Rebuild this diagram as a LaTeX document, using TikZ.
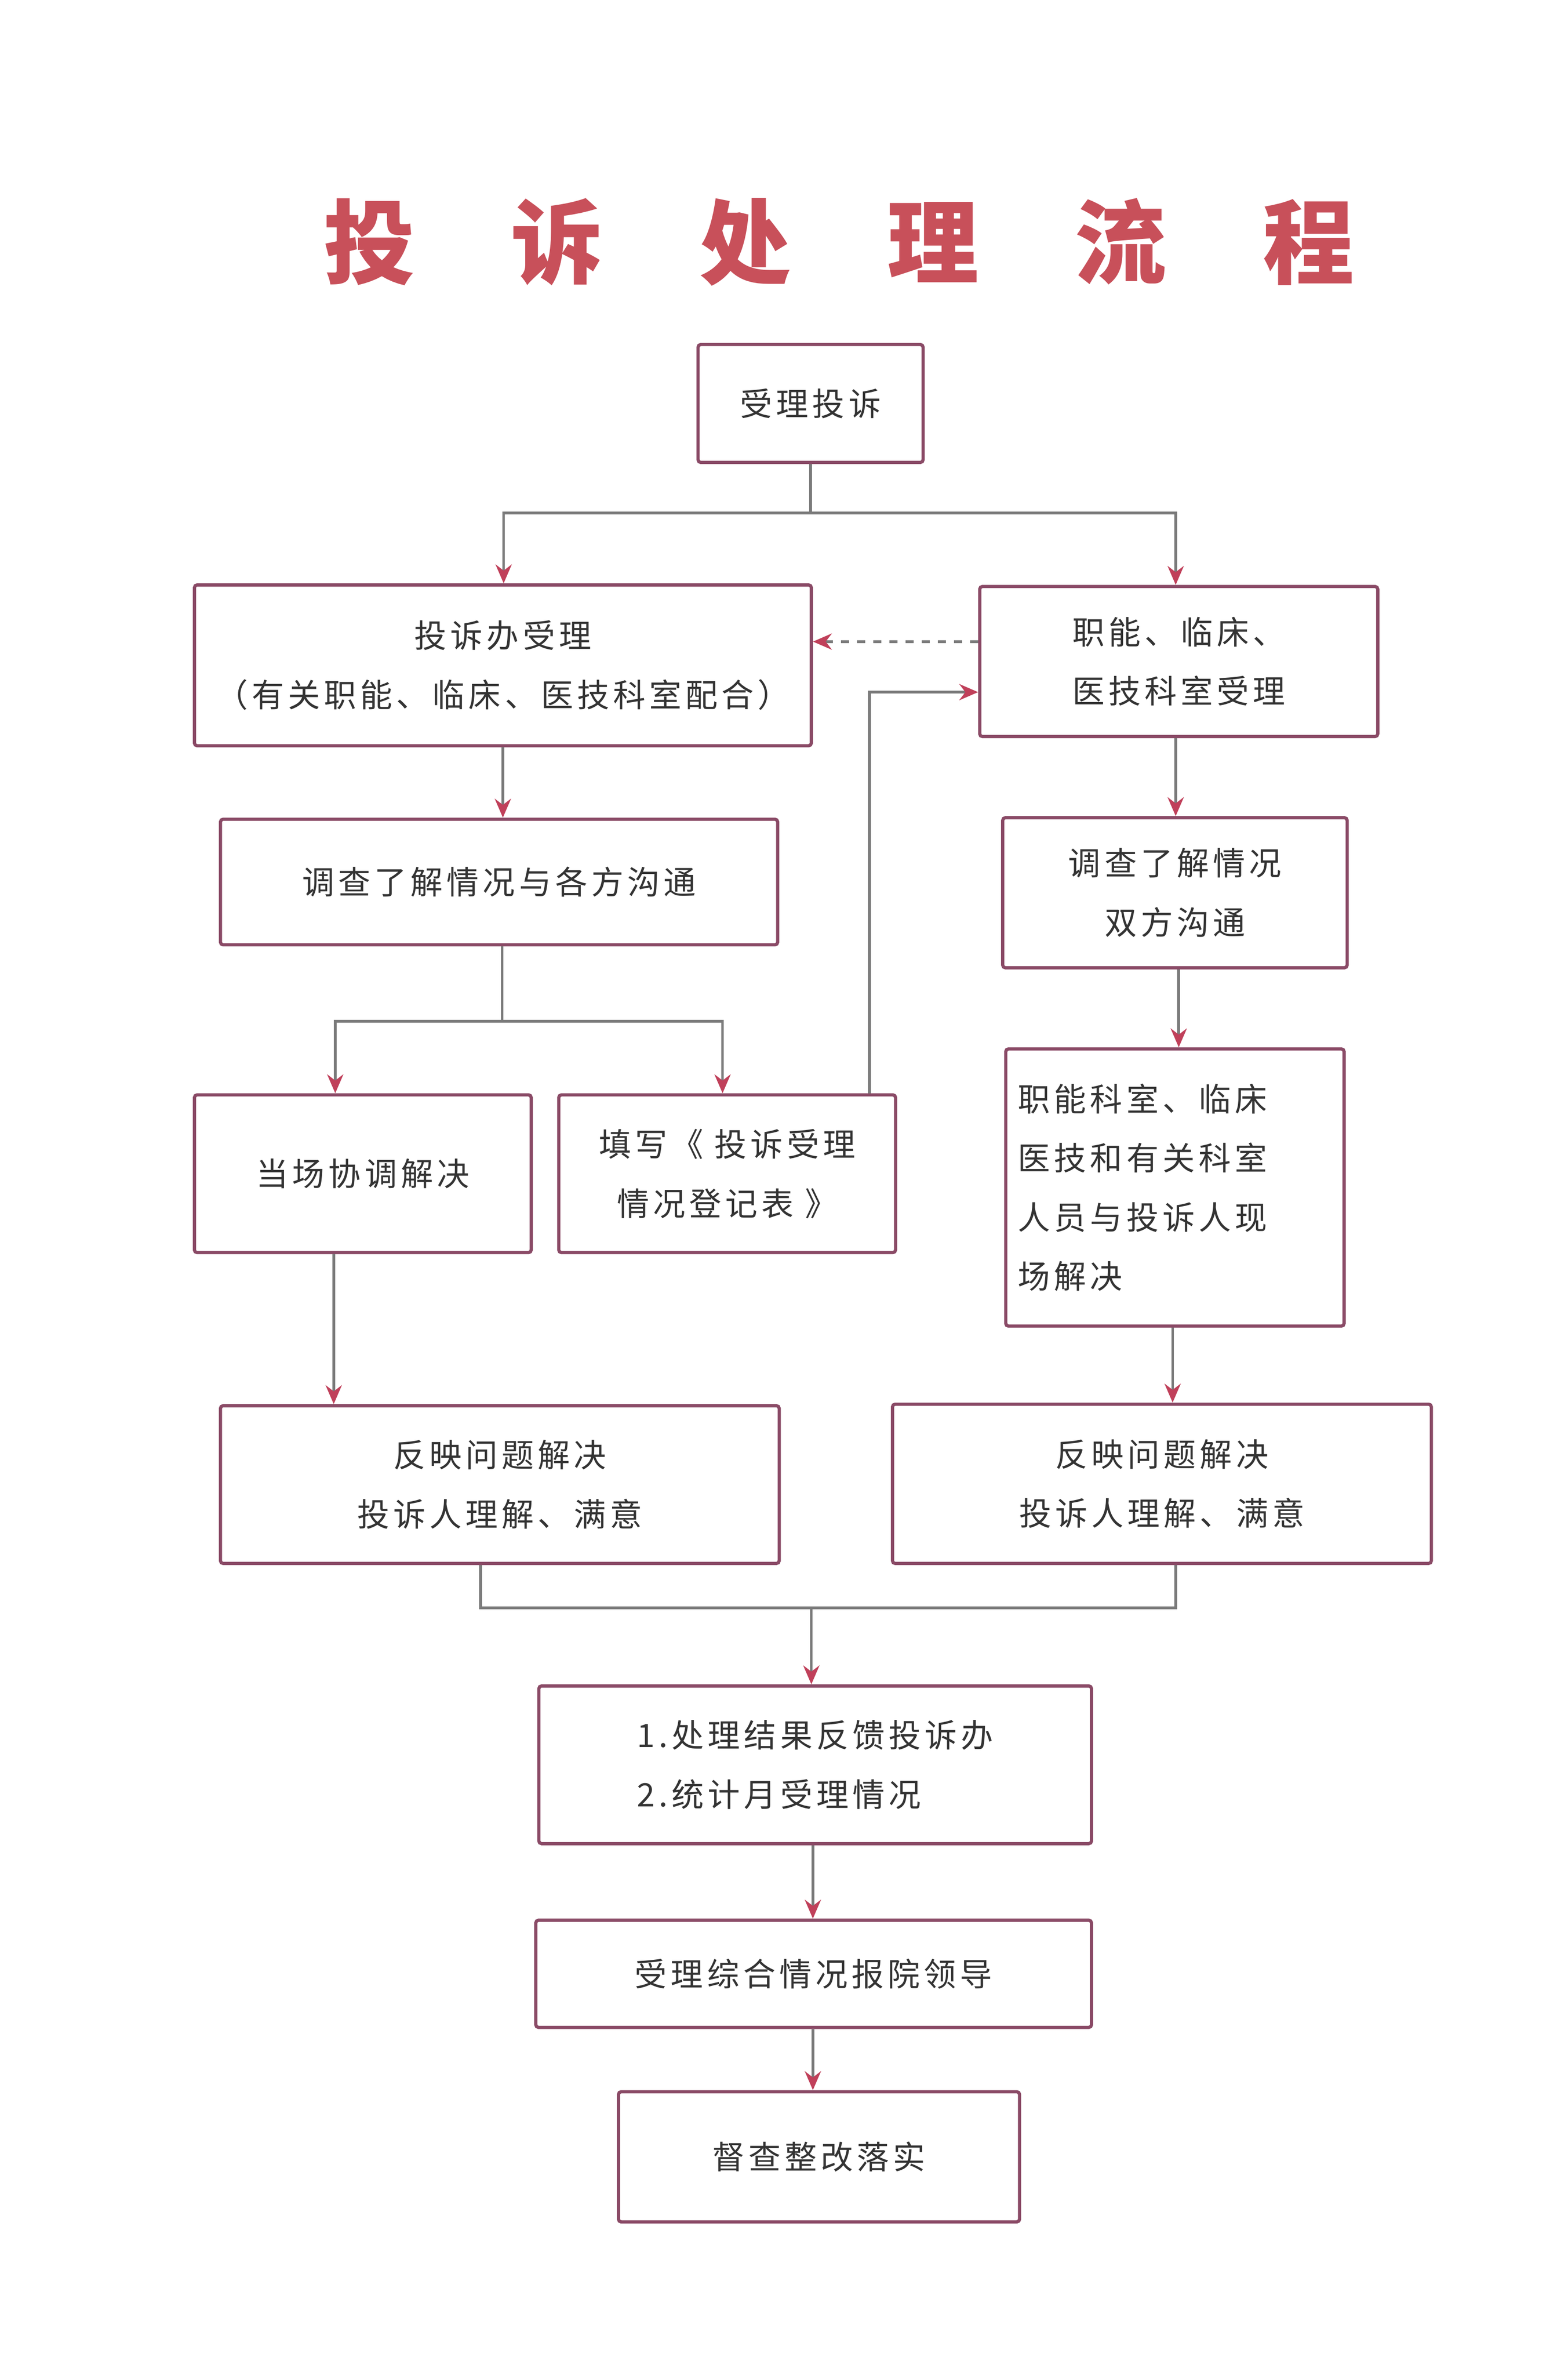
\documentclass[tikz,border=0pt]{standalone}
\usepackage{fontspec}
\setmainfont{Noto Sans CJK SC}
\usepackage{tikz}
\usetikzlibrary{arrows.meta}
\definecolor{boxline}{HTML}{8A4A66}
\definecolor{conn}{HTML}{7A7A7A}
\definecolor{tip}{HTML}{C0405A}
\definecolor{titlered}{HTML}{C8505A}
\definecolor{txt}{HTML}{333333}
\tikzset{
  box/.style={draw=boxline, line width=1.2pt, rounded corners=1pt, text=txt, align=center,
    font=\fontsize{12}{22}\selectfont\addfontfeatures{LetterSpace=12}, inner sep=0pt},
  flow/.style={draw=conn, line width=1pt, -{Stealth[length=7pt,width=6pt,color=tip]}},
  link/.style={draw=conn, line width=1pt}
}
\begin{document}
\begin{tikzpicture}[x=0.02cm, y=-0.02cm]
\useasboundingbox (0,0) rectangle (1024,1551);
\node[text=titlered, font=\fontsize{34}{34}\selectfont\bfseries] (title) at (548,158)
  {投\hspace{1.26cm}诉\hspace{1.26cm}处\hspace{1.26cm}理\hspace{1.26cm}流\hspace{1.26cm}程};
\node[box, minimum width=147*0.02cm, minimum height=77*0.02cm] (accept) at (529.5,263.5) {受理投诉};
\node[box, minimum width=403*0.02cm, minimum height=105*0.02cm] (office) at (328.5,434.5)
  {投诉办受理\\（有关职能、临床、医技科室配合）};
\node[box, minimum width=260*0.02cm, minimum height=98*0.02cm] (dept) at (770,432)
  {职能、临床、\\医技科室受理};
\node[box, minimum width=364*0.02cm, minimum height=82*0.02cm] (survey) at (326,576)
  {调查了解情况与各方沟通};
\node[box, minimum width=225*0.02cm, minimum height=98*0.02cm] (both) at (767.5,583)
  {调查了解情况\\双方沟通};
\node[box, minimum width=220*0.02cm, minimum height=103*0.02cm] (spot) at (237,766.5)
  {当场协调解决};
\node[box, minimum width=220*0.02cm, minimum height=103*0.02cm] (form) at (475,766.5)
  {填写《 投诉受理\\情况登记表 》};
\node[box, minimum width=221*0.02cm, minimum height=181*0.02cm, text width=205*0.02cm, align=left] (onsite) at (767.5,775.5)
  {职能科室、临床\\医技和有关科室\\人员与投诉人现\\场解决};
\node[box, minimum width=365*0.02cm, minimum height=103*0.02cm] (solvedl) at (326.5,969.5)
  {反映问题解决\\投诉人理解、满意};
\node[box, minimum width=352*0.02cm, minimum height=104*0.02cm] (solvedr) at (759,969)
  {反映问题解决\\投诉人理解、满意};
\node[box, minimum width=361*0.02cm, minimum height=103*0.02cm, align=left] (feedback) at (532.5,1152.5)
  {1.处理结果反馈投诉办\\2.统计月受理情况};
\node[box, minimum width=363*0.02cm, minimum height=70*0.02cm] (report) at (531.5,1289)
  {受理综合情况报院领导};
\node[box, minimum width=262*0.02cm, minimum height=85*0.02cm] (check) at (535,1408.5)
  {督查整改落实};
% branches
\coordinate (split1) at (529.5,335);
\coordinate (split2) at (328,667);
\coordinate (join) at (530,1050);
\draw[link] (accept.south) -- (split1);
\draw[flow] (split1) -| (office.north -| 329,0);
\draw[flow] (split1) -| (dept.north -| 768,0);
\draw[flow, dashed] (dept.west |- 0,419) -- (office.east |- 0,419);
\draw[flow] (office.south) -- (survey.north -| office.south);
\draw[flow] (dept.south -| 768,0) -- (both.north -| 768,0);
\draw[link] (survey.south -| split2) -- (split2);
\draw[flow] (split2) -| (spot.north -| 219,0);
\draw[flow] (split2) -| (form.north -| 472,0);
\draw[flow] (form.north -| 568,0) |- (dept.west |- 0,452);
\draw[flow] (both.south -| 770,0) -- (onsite.north -| 770,0);
\draw[flow] (spot.south -| 218,0) -- (solvedl.north -| 218,0);
\draw[flow] (onsite.south -| 766,0) -- (solvedr.north -| 766,0);
\draw[link] (solvedl.south -| 314,0) |- (join);
\draw[link] (solvedr.south -| 768,0) |- (join);
\draw[flow] (join) -- (feedback.north -| join);
\draw[flow] (feedback.south -| 531,0) -- (report.north -| 531,0);
\draw[flow] (report.south -| 531,0) -- (check.north -| 531,0);
\end{tikzpicture}
\end{document}
